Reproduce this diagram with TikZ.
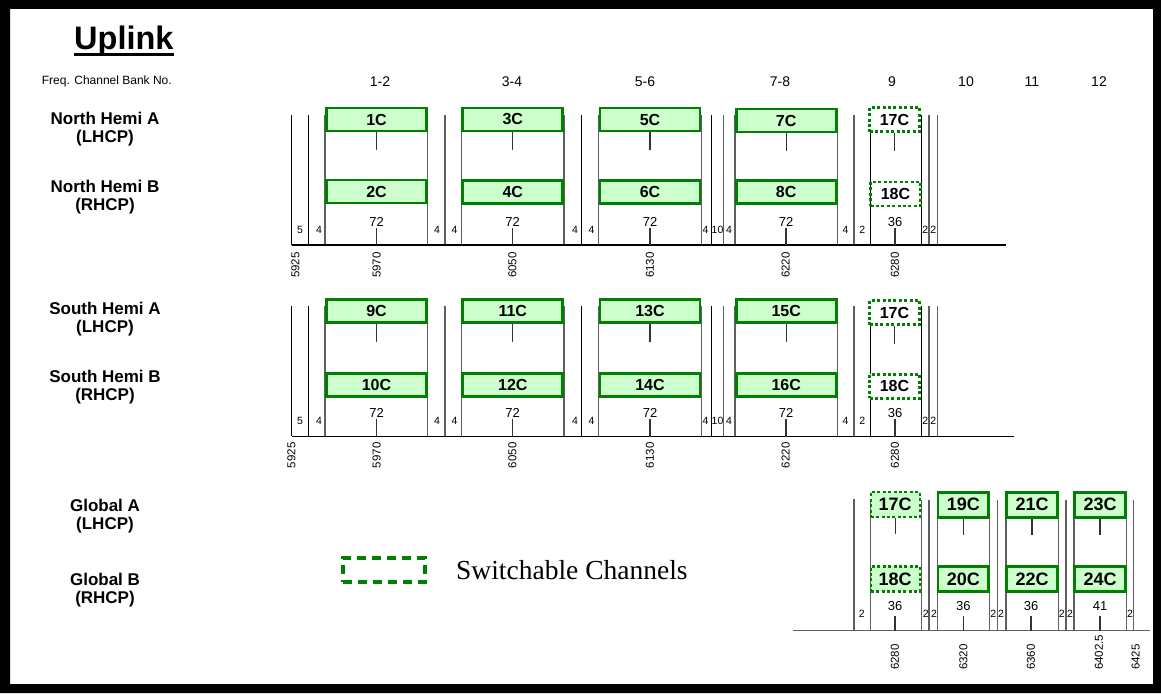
\documentclass[tikz,border=0pt]{standalone}
\usepackage{fontspec}
\setmainfont{Liberation Sans}
\newfontfamily\legendfont{Liberation Serif}
\usetikzlibrary{positioning}

\definecolor{chgreen}{RGB}{0,128,0}
\definecolor{chfill}{RGB}{204,255,204}
\definecolor{linegray}{RGB}{95,95,95}

\tikzset{
  chan/.style={draw=chgreen, line width=2.7pt, fill=chfill, inner sep=0pt,
    minimum width=100pt, minimum height=23pt, font=\fontsize{16}{16}\selectfont\bfseries},
  swchan/.style={chan, fill=white, line width=2.4pt, dash pattern=on 3pt off 2.4pt,
    minimum width=50pt, minimum height=24pt},
  gchan/.style={chan, minimum width=50.5pt, minimum height=25pt, font=\fontsize{18}{18}\selectfont\bfseries},
  gswchan/.style={gchan, line width=2.4pt, dash pattern=on 3pt off 2.4pt, minimum width=49pt},
  rowlabel/.style={align=center, inner sep=0pt, font=\fontsize{17}{18}\selectfont\bfseries},
  bank/.style={inner sep=0pt, font=\fontsize{14}{14}\selectfont},
  bw/.style={inner sep=0.5pt, font=\fontsize{13}{13}\selectfont},
  gap/.style={inner sep=0pt, font=\fontsize{10.5}{10.5}\selectfont},
  freq/.style={rotate=90, anchor=west, inner sep=0pt, font=\fontsize{11.5}{11.5}\selectfont},
  guide/.style={line width=1.2pt, black},
  guidegray/.style={line width=1.4pt, linegray},
  tick/.style={line width=1.2pt, black!80},
  baseline/.style={line width=1.4pt, black}
}

\begin{document}
\begin{tikzpicture}[x=1pt, y=-1pt]
  \useasboundingbox (0,0) rectangle (1161,693);
  \fill[black, even odd rule] (0,0) rectangle (1161,693) (10,9) rectangle (1153,684);

  % title and header row
  \node[inner sep=0pt, anchor=base west, font=\fontsize{32.5}{32.5}\selectfont\bfseries] (title) at (74,50) {Uplink};
  \draw[line width=2.6pt] ([yshift=-4.5pt]title.base west) -- ([yshift=-4.5pt]title.base east);
  \node[anchor=west, inner sep=0pt, font=\fontsize{12}{12}\selectfont] (bankno) at (41.7,81.7) {Freq. Channel Bank No.};
  \node[bank] (k12) at (380,81.7) {1-2};
  \node[bank] (k34) at (512,81.7) {3-4};
  \node[bank] (k56) at (645,81.7) {5-6};
  \node[bank] (k78) at (780,81.7) {7-8};
  \node[bank] (k9) at (892,81.7) {9};
  \node[bank] (k10) at (966,81.7) {10};
  \node[bank] (k11) at (1032,81.7) {11};
  \node[bank] (k12b) at (1099,81.7) {12};

  % row labels
  \node[rowlabel] (nha) at (105,129) {North Hemi A\\(LHCP)};
  \node[rowlabel] (nhb) at (105,197.5) {North Hemi B\\(RHCP)};
  \node[rowlabel] (sha) at (105,319) {South Hemi A\\(LHCP)};
  \node[rowlabel] (shb) at (105,387.5) {South Hemi B\\(RHCP)};
  \node[rowlabel] (gla) at (105,516) {Global A\\(LHCP)};
  \node[rowlabel] (glb) at (105,590) {Global B\\(RHCP)};

  % hemi frequency plans
  \coordinate (nbase) at (291.7,245);
  \coordinate (sbase) at (291.7,436.7);
  \coordinate (gbase) at (792.7,630.7);
  \foreach \y in {115,306} {
    \foreach \x in {291.7,308.3,581.7,711.7,870.7,921.7}
      \draw[guide] (\x,\y) -- (\x,\y+130);
    \foreach \x in {325,427.7,445,461.7,564,598.3,701.7,723.3,735,837.7,854,929,937.7}
      \draw[guidegray] (\x,\y) -- (\x,\y+130);
  }
  \draw[baseline] (nbase) -- (1006,245);
  \draw[baseline] (sbase) -- (1014,436.7);

  \node[chan] (c1) at (376.5,119.5) {1C};
  \node[chan] (c3) at (512.8,119.5) {3C};
  \node[chan] (c5) at (650,119.5) {5C};
  \node[chan] (c7) at (786.2,120.5) {7C};
  \node[swchan] (n17) at (894.5,119.5) {17C};
  \node[chan] (c2) at (376.5,191.5) {2C};
  \node[chan] (c4) at (512.8,192) {4C};
  \node[chan] (c6) at (650,192) {6C};
  \node[chan] (c8) at (786.2,192) {8C};
  \node[swchan] (n18) at (895.5,193.8) {18C};

  \node[chan] (c9) at (376.5,310.8) {9C};
  \node[chan] (c11) at (512.8,310.8) {11C};
  \node[chan] (c13) at (650,310.8) {13C};
  \node[chan] (c15) at (786.2,310.8) {15C};
  \node[swchan] (s17) at (894.5,312.5) {17C};
  \node[chan] (c10) at (376.5,384.7) {10C};
  \node[chan] (c12) at (512.8,384.7) {12C};
  \node[chan] (c14) at (650,384.7) {14C};
  \node[chan] (c16) at (786.2,384.7) {16C};
  \node[swchan] (s18) at (894.5,386.4) {18C};

  \foreach \c in {c1,c3,c5,c7,n17,c9,c11,c13,c15,s17}
    \draw[tick] (\c.south) -- ++(0,18);

  \node[bw] (nb1) at (376.5,222) {72};
  \node[bw] (nb2) at (512.5,222) {72};
  \node[bw] (nb3) at (650,222) {72};
  \node[bw] (nb4) at (786,222) {72};
  \node[bw] (nb5) at (895,222) {36};
  \node[bw] (sb1) at (376.5,413) {72};
  \node[bw] (sb2) at (512.5,413) {72};
  \node[bw] (sb3) at (650,413) {72};
  \node[bw] (sb4) at (786,413) {72};
  \node[bw] (sb5) at (895,413) {36};
  \foreach \b in {nb1,nb2,nb3,nb4,nb5}
    \draw[tick] ([yshift=-1pt]\b.south) -- (\b.south |- nbase);
  \foreach \b in {sb1,sb2,sb3,sb4,sb5}
    \draw[tick] ([yshift=-1pt]\b.south) -- (\b.south |- sbase);

  \foreach \x/\t [count=\i] in {300/5,319/4,437/4,454.5/4,575/4,591.5/4,705.5/4,717.5/10,729/4,845.5/4,862.3/2,925.3/2,933.3/2} {
    \node[gap] (ngap\i) at (\x,230) {\t};
    \node[gap] (sgap\i) at (\x,421) {\t};
  }

  \foreach \x/\t [count=\i] in {295.5/5925,376.7/5970,512.3/6050,650/6130,785.7/6220,895/6280}
    \node[freq] (nf\i) at (\x,278) {\t};
  \foreach \x/\t [count=\i] in {291.3/5925,376.7/5970,512.3/6050,650/6130,785.7/6220,895/6280}
    \node[freq] (sf\i) at (\x,468.3) {\t};

  % global frequency plan
  \draw[guidegray] (854,499.3) -- (854,630.7);
  \foreach \x in {870.7,921.7,929,937.7,989.3,997.7,1006,1058.3,1066,1074,1126.7,1133.3}
    \draw[guidegray] (\x,500) -- (\x,630.7);
  \draw[baseline, linegray] (gbase) -- (1150,630.7);

  \node[gswchan] (g17) at (895.2,504.7) {17C};
  \node[gchan] (c19) at (963.3,504.7) {19C};
  \node[gchan] (c21) at (1032,504.7) {21C};
  \node[gchan] (c23) at (1100,504.7) {23C};
  \node[gswchan] (g18) at (895.2,578.8) {18C};
  \node[gchan] (c20) at (963.3,578.8) {20C};
  \node[gchan] (c22) at (1032,578.8) {22C};
  \node[gchan] (c24) at (1100,578.8) {24C};
  \foreach \c in {g17,c19,c21,c23}
    \draw[tick] (\c.south) -- ++(0,16);

  \node[bw] (gb1) at (895,606) {36};
  \node[bw] (gb2) at (963.3,606) {36};
  \node[bw] (gb3) at (1031,606) {36};
  \node[bw] (gb4) at (1100,606) {41};
  \foreach \b in {gb1,gb2,gb3,gb4}
    \draw[tick] ([yshift=-5pt]\b.south) -- (\b.south |- gbase);

  \foreach \x [count=\i] in {861.7,925.7,934,993.3,1001,1061.7,1070,1130}
    \node[gap] (ggap\i) at (\x,614) {2};
  \foreach \x/\t [count=\i] in {895/6280,963.3/6320,1031/6360,1099/6402.5,1135.7/6425}
    \node[freq] (gf\i) at (\x,670) {\t};

  % legend
  \node[draw=chgreen, line width=4pt, dash pattern=on 9pt off 6pt, minimum width=82pt, minimum height=24pt] (legbox) at (384,570) {};
  \node[right=29pt of legbox, inner sep=0pt, font=\legendfont\fontsize{27.5}{27.5}\selectfont] (legtext) {Switchable Channels};
\end{tikzpicture}
\end{document}
